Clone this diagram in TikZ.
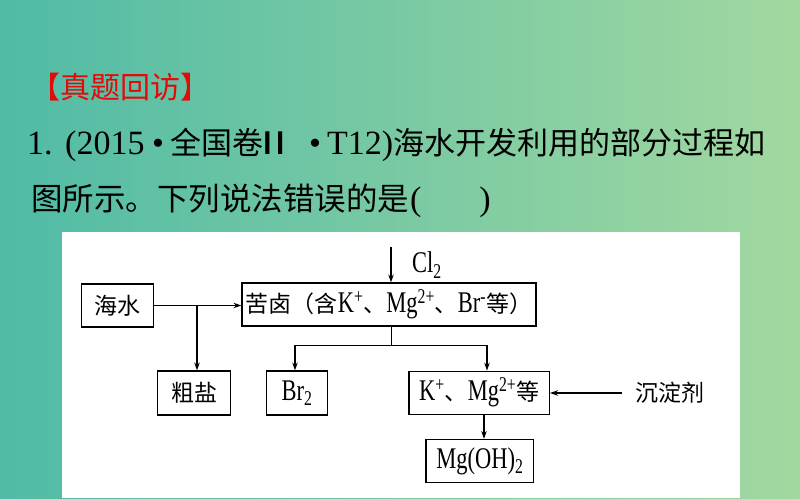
\documentclass[tikz,border=0pt]{standalone}
\usepackage{fontspec}
\setmainfont{Liberation Serif}
\newfontfamily\cjk{Noto Sans CJK SC}
\newfontfamily\latn{Liberation Serif}[FakeStretch=0.75]
\usetikzlibrary{arrows.meta}
\newcommand\zhd[1]{{\cjk\fontsize{23}{23}\selectfont #1}}
\definecolor{bgl}{RGB}{80,187,166}
\definecolor{bgr}{RGB}{162,216,160}
\definecolor{hred}{RGB}{228,10,10}
\begin{document}
\begin{tikzpicture}[x=1pt,y=-1pt,
  box/.style={draw, line width=1.2pt, fill=white, inner sep=0pt, minimum height=43pt,
    font=\latn\fontsize{30}{30}\selectfont},
  arr/.style={line width=1.2pt, -{Stealth[length=8pt,width=5.5pt]}},
  hdzh/.style={inner sep=0pt, anchor=base west, font=\cjk\fontsize{31}{31}\selectfont},
  hdla/.style={inner sep=0pt, anchor=base west, font=\fontsize{34}{34}\selectfont},
  freetext/.style={inner sep=0pt, font=\latn\fontsize{30}{30}\selectfont}]
\useasboundingbox (0,0) rectangle (800,498);
\shade[left color=bgl, right color=bgr] (0,0) rectangle (800,498);
\fill[white] (62,232) rectangle (740,498);
% header
\node[hdzh, text=hred, font=\cjk\fontsize{30}{30}\selectfont] (hd) at (30,98) {【真题回访】};
\node[hdla] (l1a) at (27,154) {1.};
\node[hdla] (l1b) at (65,154) {(2015};
\node[hdla, anchor=base] (l1c) at (158,154) {•};
\node[hdzh] (l1d) at (170,154) {全国卷};
\node[hdzh, anchor=base] (l1e) at (274,154) {\scalebox{1.4}[1]{Ⅱ}};
\node[hdla, anchor=base] (l1f) at (315,154) {•};
\node[hdla] (l1g) at (327,154) {T12)};
\node[hdzh] (l1h) at (393,154) {海水开发利用的部分过程如};
\node[hdzh, font=\cjk\fontsize{31.5}{31.5}\selectfont] (l2a) at (31,210) {图所示。下列说法错误的是};
\node[hdla] (l2b) at (410,210) {(\hspace{58pt})};
% diagram
\node[box, minimum width=71.6pt] (hs) at (117.5,305.5) {\zhd{海水}};
\node[box, minimum width=294pt] (kl) at (389,304.5) {\zhd{苦卤（含}K\textsuperscript{+}\zhd{、}Mg\textsuperscript{2+}\zhd{、}Br\textsuperscript{-}\zhd{等）}};
\node[box, minimum width=73pt, minimum height=44pt] (cy) at (194.2,393) {\zhd{粗盐}};
\node[box, minimum width=60.6pt, minimum height=44pt] (br) at (297,393) {Br\textsubscript{2}};
\node[box, minimum width=140.3pt] (kb) at (479.2,392.7) {K\textsuperscript{+}\zhd{、}Mg\textsuperscript{2+}\zhd{等}};
\node[box, minimum width=107.7pt] (mg) at (479.9,461) {Mg(OH)\textsubscript{2}};
\node[freetext] (cdj) at (669.5,393) {\zhd{沉淀剂}};
\node[freetext, anchor=west] (cl) at (412,265) {Cl\textsubscript{2}};
% connectors
\coordinate (c0) at (391,247);
\draw[arr] (c0) -- (c0 |- kl.north);
\draw[arr] (hs.east) -- (hs.east -| kl.west);
\coordinate (j1) at (197,305.5);
\draw[arr] (j1) -- (j1 |- cy.north);
\coordinate (j2) at (391.5,345.7);
\coordinate (jl) at (295,345.7);
\coordinate (jr) at (487,345.7);
\draw[arr] (j2 |- kl.south) -- (j2) -| (jl |- br.north);
\draw[arr] (j2) -| (jr |- kb.north);
\coordinate (j3) at (484,414);
\draw[arr] (j3 |- kb.south) -- (j3 |- mg.north);
\draw[arr, shorten <=13pt] (cdj.west) -- (cdj.west -| kb.east);
\end{tikzpicture}
\end{document}
